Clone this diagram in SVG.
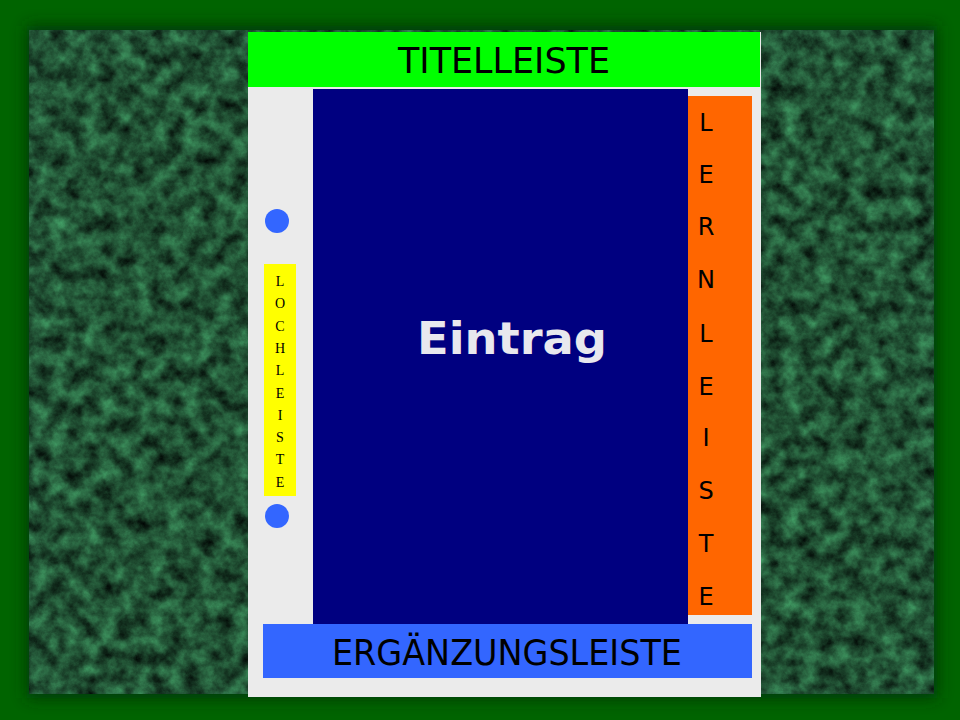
<svg xmlns="http://www.w3.org/2000/svg" width="960" height="720" viewBox="0 0 960 720">
<defs>
<filter id="marble" x="0" y="0" width="100%" height="100%" color-interpolation-filters="sRGB">
<feTurbulence type="fractalNoise" baseFrequency="0.06" numOctaves="6" seed="7" result="n"/>
<feColorMatrix in="n" type="matrix" values="0.3 0 0 0 -0.02  0.7 0 0 0 -0.03  0.45 0 0 0 -0.02  0 0 0 0 1"/>
</filter>
<filter id="shadow" x="-10%" y="-10%" width="120%" height="120%">
<feGaussianBlur stdDeviation="8"/>
</filter>
<style>
.ll{font-family:"DejaVu Sans","Liberation Sans",sans-serif;font-size:24px;fill:#000;text-anchor:middle}
.lo{font-family:"Liberation Serif","Times New Roman",serif;font-size:14px;fill:#000;text-anchor:middle}
</style>
</defs>
<rect x="0" y="0" width="960" height="720" fill="#006400"/>
<rect x="27" y="26" width="910" height="672" fill="#002a08" filter="url(#shadow)" opacity="0.8"/>
<g id="marble-bg">
<rect x="29" y="30" width="905" height="664" fill="#1a4a2c"/>
<rect x="29" y="30" width="905" height="664" filter="url(#marble)"/>
</g>
<g id="page">
<rect x="248" y="32" width="513" height="665" fill="#ebebeb"/>
</g>
<g id="titelleiste">
<rect x="248" y="32" width="512" height="55" fill="#00ff00"/>
<text x="504" y="73" font-family="DejaVu Sans,Liberation Sans,sans-serif" font-size="35" text-anchor="middle" textLength="212" lengthAdjust="spacingAndGlyphs">TITELLEISTE</text>
</g>
<g id="eintrag">
<rect x="313" y="89" width="375" height="535" fill="#000080"/>
<text x="512" y="354" font-family="DejaVu Sans,Liberation Sans,sans-serif" font-size="45" font-weight="bold" fill="#e8e8ee" text-anchor="middle" textLength="190" lengthAdjust="spacingAndGlyphs">Eintrag</text>
</g>
<g id="lernleiste">
<rect x="688" y="96" width="64" height="519" fill="#ff6600"/>
<text class="ll" x="706" y="131">L</text>
<text class="ll" x="706" y="183">E</text>
<text class="ll" x="706" y="235">R</text>
<text class="ll" x="706" y="288">N</text>
<text class="ll" x="706" y="342">L</text>
<text class="ll" x="706" y="395">E</text>
<text class="ll" x="706" y="446">I</text>
<text class="ll" x="706" y="499">S</text>
<text class="ll" x="706" y="552">T</text>
<text class="ll" x="706" y="605">E</text>
</g>
<g id="ergaenzungsleiste">
<rect x="263" y="624" width="489" height="54" fill="#3366ff"/>
<text x="507" y="665" font-family="DejaVu Sans,Liberation Sans,sans-serif" font-size="36" text-anchor="middle" textLength="350" lengthAdjust="spacingAndGlyphs">ERGÄNZUNGSLEISTE</text>
</g>
<g id="lochleiste">
<rect x="264" y="264" width="32" height="232" fill="#ffff00"/>
<text class="lo" x="280" y="286">L</text>
<text class="lo" x="280" y="308">O</text>
<text class="lo" x="280" y="331">C</text>
<text class="lo" x="280" y="353">H</text>
<text class="lo" x="280" y="375">L</text>
<text class="lo" x="280" y="398">E</text>
<text class="lo" x="280" y="420">I</text>
<text class="lo" x="280" y="442">S</text>
<text class="lo" x="280" y="464">T</text>
<text class="lo" x="280" y="487">E</text>
</g>
<g id="loch1"><circle cx="277" cy="221" r="12" fill="#3366ff"/></g>
<g id="loch2"><circle cx="277" cy="516" r="12" fill="#3366ff"/></g>
<g id="connectors"/>
</svg>
